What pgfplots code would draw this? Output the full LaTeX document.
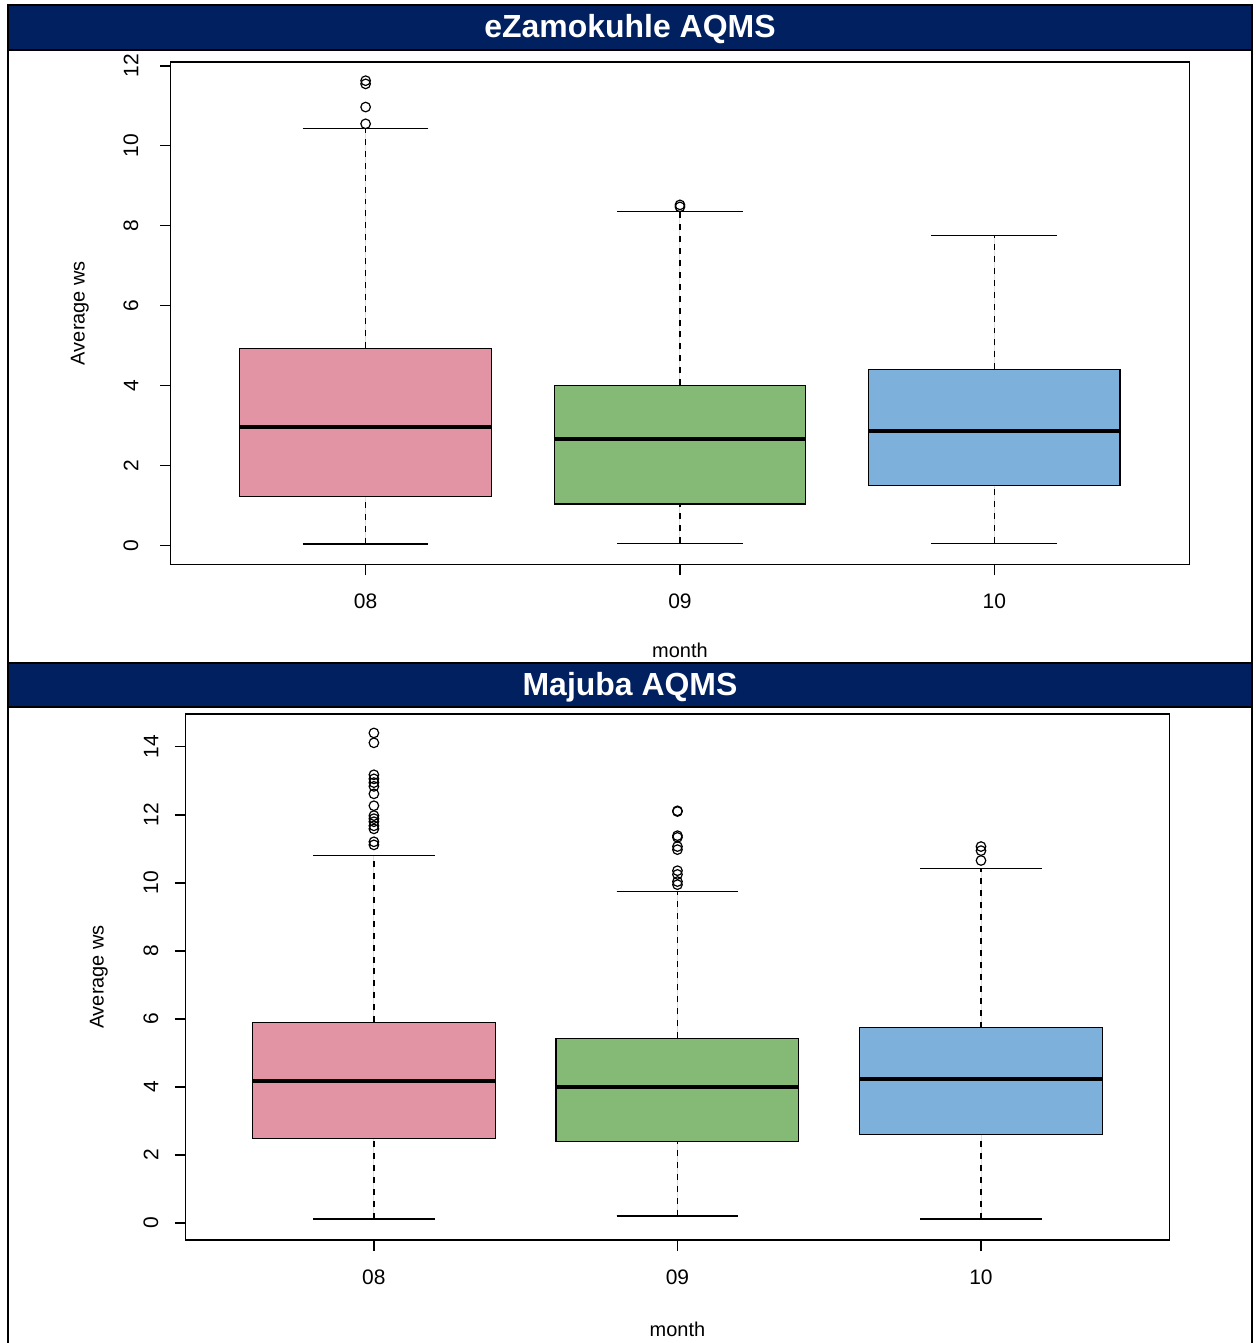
\documentclass[border=0pt]{standalone}
\usepackage{fontspec}
\setmainfont{Liberation Sans}
\usepackage{pgfplots}
\pgfplotsset{compat=1.18}
\usepgfplotslibrary{statistics}

\definecolor{hdr}{RGB}{0,32,96}
\definecolor{aug}{RGB}{226,148,165}
\definecolor{sep}{RGB}{133,185,118}
\definecolor{oct}{RGB}{126,176,220}

\newcommand{\lblfont}{\fontsize{10.5}{12}\selectfont}

\pgfplotsset{
  rbox/.style={
    scale only axis,
    xmin=0.38, xmax=3.62,
    xtick={1,2,3}, xticklabels={08,09,10},
    xtick pos=bottom, ytick pos=left,
    tick align=outside,
    major tick length=5.5pt,
    axis line style={line width=0.6pt},
    every tick/.style={black, line width=0.6pt},
    /pgf/number format/assume math mode=true,
    tick label style={font=\lblfont},
    xticklabel style={anchor=north, inner sep=0pt, yshift=-9pt},
    xlabel={month}, ylabel={Average ws},
    label style={font=\lblfont},
    boxplot/draw direction=y,
    boxplot/box extend=0.8,
    boxplot/whisker extend=0.4,
    boxplot/every median/.style={black, line width=2pt},
    boxplot/draw/lower whisker/.code={
      \draw[black, line width=0.6pt, dash pattern=on 3pt off 3pt]
        (boxplot box cs:\pgfplotsboxplotvalue{lower whisker},0.5) --
        (boxplot box cs:\pgfplotsboxplotvalue{lower quartile},0.5);
      \draw[black, line width=0.6pt]
        (boxplot whisker cs:\pgfplotsboxplotvalue{lower whisker},0) --
        (boxplot whisker cs:\pgfplotsboxplotvalue{lower whisker},1);
    },
    boxplot/draw/upper whisker/.code={
      \draw[black, line width=0.6pt, dash pattern=on 3pt off 3pt]
        (boxplot box cs:\pgfplotsboxplotvalue{upper quartile},0.5) --
        (boxplot box cs:\pgfplotsboxplotvalue{upper whisker},0.5);
      \draw[black, line width=0.6pt]
        (boxplot whisker cs:\pgfplotsboxplotvalue{upper whisker},0) --
        (boxplot whisker cs:\pgfplotsboxplotvalue{upper whisker},1);
    },
  },
  rseries/.style={draw=black, line width=0.6pt, fill=#1, solid,
    mark=o, mark size=2.4pt, mark options={black, solid, line width=0.6pt}},
}

\begin{document}
\begin{tikzpicture}
% page frame and station headers (units: 1 = 0.5pt, y downwards)
\begin{scope}[x=0.5pt, y=-0.5pt]
  \path[use as bounding box] (0,0) rectangle (1257,1343);
  \fill[white] (0,0) rectangle (1257,1343);
  \fill[hdr] (8,5) rectangle (1254,50);
  \fill[hdr] (8,664) rectangle (1254,708);
  \draw[line width=1.4pt] (8,5) rectangle (1254,50);
  \draw[line width=1.4pt] (8,664) rectangle (1254,708);
  \draw[line width=1.4pt] (8,50) -- (8,1360);
  \draw[line width=1.4pt] (1254,50) -- (1254,1360);
  \node[white, font=\bfseries\fontsize{16}{18}\selectfont] at (631,29) {eZamokuhle AQMS};
  \node[white, font=\bfseries\fontsize{16}{18}\selectfont] at (631,688) {Majuba AQMS};
\end{scope}

% eZamokuhle
\begin{axis}[rbox,
  at={(85.5pt,-282.5pt)}, anchor=south west,
  width=510pt, height=251.5pt,
  ymin=-0.475, ymax=12.1,
  ytick={0,2,...,12},
  yticklabel style={rotate=90, anchor=south, inner sep=0pt, yshift=10.5pt},
  every axis x label/.style={at={(axis description cs:0.5,-0.171)}, anchor=center},
  every axis y label/.style={at={(axis description cs:-0.0892,0.5)}, rotate=90, anchor=center},
]
\addplot[rseries=aug, boxplot prepared={draw position=1,
  lower whisker=0.03, lower quartile=1.22, median=2.97,
  upper quartile=4.93, upper whisker=10.43}]
  coordinates {(1,11.63) (1,11.55) (1,10.97) (1,10.55)};
\addplot[rseries=sep, boxplot prepared={draw position=2,
  lower whisker=0.05, lower quartile=1.03, median=2.65,
  upper quartile=4.00, upper whisker=8.35}]
  coordinates {(2,8.47) (2,8.52)};
\addplot[rseries=oct, boxplot prepared={draw position=3,
  lower whisker=0.05, lower quartile=1.50, median=2.85,
  upper quartile=4.40, upper whisker=7.75}]
  coordinates {};
\end{axis}

% Majuba
\begin{axis}[rbox,
  at={(93pt,-621pt)}, anchor=south west,
  width=492.5pt, height=263.5pt,
  ymin=-0.5, ymax=14.97,
  ytick={0,2,...,14},
  yticklabel style={rotate=90, anchor=south, inner sep=0pt, yshift=8pt},
  every axis x label/.style={at={(axis description cs:0.5,-0.169)}, anchor=center},
  every axis y label/.style={at={(axis description cs:-0.0883,0.5)}, rotate=90, anchor=center},
]
\addplot[rseries=aug, boxplot prepared={draw position=1,
  lower whisker=0.12, lower quartile=2.49, median=4.17,
  upper quartile=5.90, upper whisker=10.80}]
  coordinates {(1,14.41) (1,14.12) (1,13.18) (1,13.06) (1,12.95) (1,12.84)
    (1,12.62) (1,12.27) (1,11.98) (1,11.89) (1,11.80) (1,11.68) (1,11.59)
    (1,11.21) (1,11.12)};
\addplot[rseries=sep, boxplot prepared={draw position=2,
  lower whisker=0.21, lower quartile=2.41, median=3.99,
  upper quartile=5.43, upper whisker=9.74}]
  coordinates {(2,12.12) (2,12.10) (2,11.39) (2,11.34) (2,11.07) (2,10.98)
    (2,10.36) (2,10.25) (2,10.04) (2,9.95)};
\addplot[rseries=oct, boxplot prepared={draw position=3,
  lower whisker=0.12, lower quartile=2.61, median=4.23,
  upper quartile=5.75, upper whisker=10.42}]
  coordinates {(3,11.07) (3,10.95) (3,10.66)};
\end{axis}
\end{tikzpicture}
\end{document}
